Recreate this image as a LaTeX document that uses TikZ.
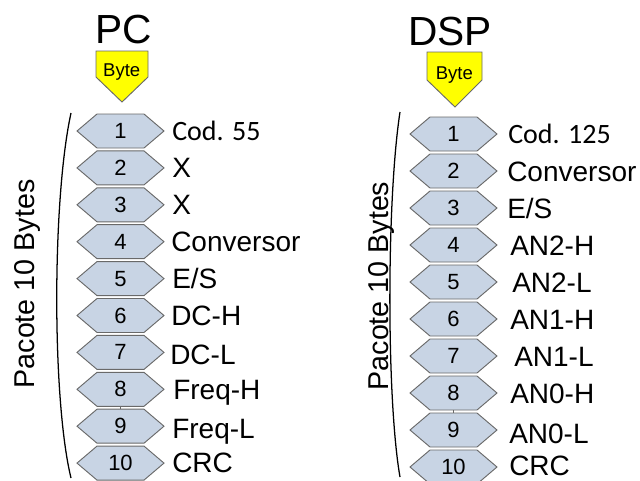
\documentclass[tikz,border=0pt]{standalone}
\usepackage{fontspec}
\setmainfont{Liberation Sans}
\newfontfamily\calib{Carlito}
\usetikzlibrary{calc}
\pgfdeclarelayer{background}
\pgfsetlayers{background,main}
\definecolor{hexfill}{RGB}{200,212,228}
\definecolor{hexline}{RGB}{105,105,105}
\definecolor{bytefill}{RGB}{255,255,0}
\tikzset{
  hexnode/.style={minimum width=65.25pt, minimum height=25.5pt, inner sep=0pt, outer sep=0pt,
    font=\fontsize{16.5}{16.5}\selectfont},
  hexshape/.style={fill=hexfill, draw=hexline, line width=0.7pt, line join=miter},
  lab/.style={inner sep=0pt, font=\fontsize{21}{21}\selectfont},
  codlab/.style={inner sep=0pt, font=\calib\fontsize{21}{21}\selectfont},
  titletxt/.style={inner sep=0pt, font=\fontsize{30.5}{30.5}\selectfont},
  bytetxt/.style={inner sep=0pt, font=\fontsize{13.9}{13.9}\selectfont},
  byteshape/.style={fill=bytefill, draw=hexline, line width=0.7pt},
  packtxt/.style={inner sep=0pt, font=\fontsize{21.5}{21.5}\selectfont},
  bracketline/.style={draw=black, line width=0.95pt},
  tickline/.style={draw=hexline, line width=0.6pt}
}
\begin{document}
\begin{tikzpicture}[x=0.75pt,y=-0.75pt]
\useasboundingbox (0,0) rectangle (640,480);

% ---------- PC ----------
\node[titletxt, anchor=base] (tpc) at (123.7,43) {PC};
\node[bytetxt, anchor=base] (bpc) at (121.7,76) {Byte};
\begin{pgfonlayer}{background}
  \path[byteshape] (96,51) -- (148,51) -- (148,77) -- (122,102) -- (96,77) -- cycle;
\end{pgfonlayer}

\foreach \i/\lab/\lx/\dy in {2/X/172/0, 3/X/172/0, 4/Conversor/171/0, 5/E\slash S/172/0,
  6/DC-H/171/0, 7/DC-L/170/2, 8/Freq-H/173/0, 9/Freq-L/172/2, 10/CRC/172/-1}{
  \pgfmathsetmacro\cy{131+36.9*(\i-1)}
  \node[hexnode] (p\i) at (120.5,\cy) {\i};
  \begin{pgfonlayer}{background}
    \path[hexshape] (p\i.west) -- ($(p\i.north west)+(20,0)$) -- ($(p\i.north east)+(-20,0)$)
      -- (p\i.east) -- ($(p\i.south east)+(-20,0)$) -- ($(p\i.south west)+(20,0)$) -- cycle;
  \end{pgfonlayer}
  \node[lab, anchor=base west] (lp\i) at ({\lx},{\cy+10+\dy}) {\lab};
}
\node[hexnode] (p1) at (120.5,131) {1};
\begin{pgfonlayer}{background}
  \path[hexshape] (p1.west) -- ($(p1.north west)+(20,0)$) -- ($(p1.north east)+(-20,0)$)
    -- (p1.east) -- ($(p1.south east)+(-20,0)$) -- ($(p1.south west)+(20,0)$) -- cycle;
\end{pgfonlayer}
\node[codlab, anchor=base west] (lp1) at (172,140) {Cod. 55};
\draw[tickline] (p8.south) -- (p9.north);

\node[packtxt, rotate=90, anchor=base] (pkpc) at (35,284) {Pacote 10 Bytes};
\draw[bracketline] (71,113) .. controls (52,200) and (52,400) .. (71,478);

% ---------- DSP ----------
\node[titletxt, anchor=base] (tdsp) at (450,45) {DSP};
\node[bytetxt, anchor=base] (bdsp) at (454.3,79) {Byte};
\begin{pgfonlayer}{background}
  \path[byteshape] (427,52) -- (482,52) -- (482,80) -- (455,107) -- (427,80) -- cycle;
\end{pgfonlayer}

\foreach \i/\lab/\lx/\dy in {2/Conversor/507/0, 3/E\slash S/507/0, 4/AN2-H/510/0, 5/AN2-L/512/0,
  6/AN1-H/510/0, 7/AN1-L/514/0, 8/AN0-H/510/0, 9/AN0-L/509/3, 10/CRC/509/-2}{
  \pgfmathsetmacro\cy{134+37*(\i-1)}
  \node[hexnode] (d\i) at (453.5,\cy) {\i};
  \begin{pgfonlayer}{background}
    \path[hexshape] (d\i.west) -- ($(d\i.north west)+(20,0)$) -- ($(d\i.north east)+(-20,0)$)
      -- (d\i.east) -- ($(d\i.south east)+(-20,0)$) -- ($(d\i.south west)+(20,0)$) -- cycle;
  \end{pgfonlayer}
  \node[lab, anchor=base west] (ld\i) at ({\lx},{\cy+10+\dy}) {\lab};
}
\node[hexnode] (d1) at (453.5,134) {1};
\begin{pgfonlayer}{background}
  \path[hexshape] (d1.west) -- ($(d1.north west)+(20,0)$) -- ($(d1.north east)+(-20,0)$)
    -- (d1.east) -- ($(d1.south east)+(-20,0)$) -- ($(d1.south west)+(20,0)$) -- cycle;
\end{pgfonlayer}
\node[codlab, anchor=base west] (ld1) at (508,143) {Cod. 125};
\draw[tickline] (d8.south) -- (d9.north);

\node[packtxt, rotate=90, anchor=base] (pkdsp) at (388,286) {Pacote 10 Bytes};
\draw[bracketline] (400,112) .. controls (386.5,200) and (386.5,400) .. (400,477);
\end{tikzpicture}
\end{document}
